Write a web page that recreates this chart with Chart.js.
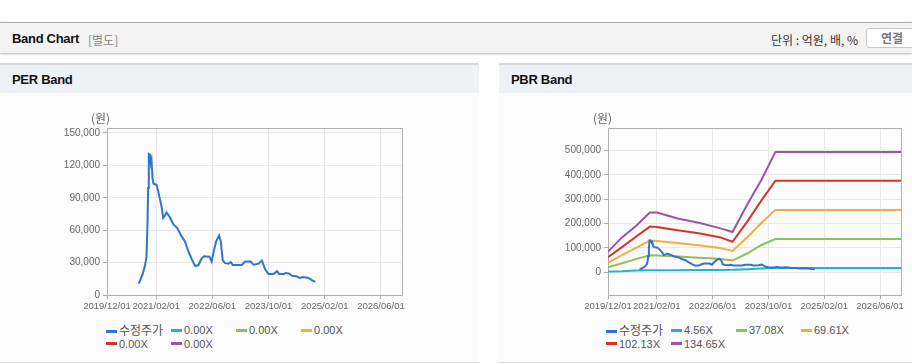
<!DOCTYPE html>
<html>
<head>
<meta charset="utf-8">
<script src="https://cdn.jsdelivr.net/npm/chart.js@4"></script>
<style>
  body { margin: 0; width: 912px; height: 364px; overflow: hidden; background: #fff; font-family: "Liberation Sans", "Noto Sans CJK KR", sans-serif; position: relative; }
  .topbar { position: absolute; left: 0; top: 22px; width: 912px; height: 30px; background: #f3f3f3; border-top: 1px solid #aaa; box-shadow: 0 1px 2px rgba(0,0,0,0.3); }
  .topbar .title { position: absolute; left: 12px; top: 8px; font-size: 13px; font-weight: bold; color: #111; letter-spacing: -0.3px; }
  .topbar .sub { position: absolute; left: 88px; top: 8px; font-size: 12px; color: #888; font-family: "Noto Sans CJK KR", sans-serif; }
  .topbar .unit { position: absolute; left: 771px; top: 8px; font-size: 12px; color: #333; font-family: "Noto Sans CJK KR", sans-serif; }
  .topbar .btn { position: absolute; left: 866px; top: 5px; width: 56px; height: 18px; border: 1px solid #c8c8c8; border-radius: 3px; background: #fff; font-size: 12px; font-weight: bold; color: #777; font-family: "Noto Sans CJK KR", sans-serif; padding-left: 14px; line-height: 18px; }
  .panel { position: absolute; top: 63px; height: 297px; background: #fcfcfc; border-top: 2px solid #d6d6d6; border-bottom: 1px solid #ddd; }
  .panel .head { height: 28px; background: #eef2f7; }
  .panel .head span { position: absolute; left: 12px; top: 7px; font-size: 13px; font-weight: bold; color: #111; letter-spacing: -0.3px; }
  canvas { position: absolute; }
  .unitlbl { position: absolute; top: 109px; font-size: 12px; color: #666; font-family: "Noto Sans CJK KR", sans-serif; }
  .legend { position: absolute; top: 323px; width: 280px; height: 30px; }
  .legend .item { position: absolute; height: 14px; line-height: 14px; font-size: 11px; color: #555; white-space: nowrap; }
  .legend .mark { display: inline-block; width: 11px; height: 3px; vertical-align: middle; margin-right: 2px; margin-top: -2px; }
  .legend .ko { font-family: "Noto Sans CJK KR", sans-serif; font-size: 12px; }
</style>
</head>
<body>
<div class="topbar">
  <span class="title">Band Chart</span>
  <span class="sub">[별도]</span>
  <span class="unit">단위 : 억원, 배, %</span>
  <span class="btn">연결</span>
</div>
<div class="panel" style="left:0;width:479px"><div class="head"><span>PER Band</span></div></div>
<div class="panel" style="left:499px;width:413px"><div class="head"><span style="left:12px">PBR Band</span></div></div>

<canvas id="per" width="479" height="221" style="left:0;top:94px"></canvas>
<canvas id="pbr" width="413" height="221" style="left:499px;top:94px"></canvas>
<div class="unitlbl" style="left:91px">(원)</div>
<div class="unitlbl" style="left:593px">(원)</div>
<div class="legend" id="perLegend" style="left:106px"></div>
<div class="legend" id="pbrLegend" style="left:606px"></div>

<script>
// x axis is months since 2019/12
const tickMonths = [0, 14, 30, 46, 62, 78];
const tickLabels = ['2019/12/01', '2021/02/01', '2022/06/01', '2023/10/01', '2025/02/01', '2026/06/01'];
const perTicks = [0, 30000, 60000, 90000, 120000, 150000];
const pbrTicks = [0, 100000, 200000, 300000, 400000, 500000];

const priceMonths = [9.06, 10.1, 10.77, 11.25, 11.53, 11.72, 11.91, 12.2, 12.49, 12.68, 12.96, 13.25, 14.1, 14.58, 15.06, 15.53, 16.0, 16.5, 16.96, 17.9, 18.87, 20.0, 21.2, 22.2, 23.15, 24.1, 25.06, 26.0, 26.96, 27.6, 29.15, 29.8, 30.5, 31.06, 31.9, 32.4, 32.96, 33.6, 34.6, 35.25, 35.8, 38.4, 39.3, 40.96, 41.7, 43.15, 44.1, 45.06, 46.0, 47.4, 48.4, 49.0, 50.3, 50.9, 51.8, 52.7, 54.1, 54.9, 55.8, 57.4, 58.4, 59.3];
const priceValues = [10500, 18800, 26500, 35700, 66700, 99000, 130500, 130000, 122000, 125000, 108000, 103000, 102000, 96000, 89000, 82000, 71500, 73500, 76500, 72000, 65500, 62000, 54500, 49500, 40500, 33500, 27000, 27500, 34000, 35800, 35500, 31000, 42000, 49500, 55000, 49500, 32000, 29500, 29000, 30500, 27800, 27800, 31000, 31000, 28000, 29000, 32000, 23500, 19500, 19500, 22000, 19500, 19500, 20300, 20000, 17800, 17200, 15700, 16600, 15700, 13500, 12300];

const bandMonths = [0, 4, 8, 12, 14, 20, 26, 32, 35.7, 40, 44, 48, 84];
const band456 = [3500, 4500, 7500, 8500, 8500, 8500, 9000, 9500, 10000, 12500, 15500, 17500, 17500];
const band3708 = [20000, 37000, 54000, 70000, 69000, 65000, 60000, 55000, 48000, 78000, 112000, 136000, 136000];
const band6961 = [39500, 70000, 100000, 130000, 128000, 120000, 111000, 100000, 87600, 145000, 203000, 256000, 256000];
const band10213 = [61700, 103000, 146000, 187500, 186000, 172000, 160000, 144000, 125000, 210000, 295000, 376000, 376000];
const band13465 = [84700, 143000, 190000, 245000, 245000, 221000, 203000, 181000, 165000, 280000, 380000, 494000, 494000];

const perLabels = ['수정주가', '0.00X', '0.00X', '0.00X', '0.00X', '0.00X'];
const pbrLabels = ['수정주가', '4.56X', '37.08X', '69.61X', '102.13X', '134.65X'];
const colors = ['#3274cc', '#20b5c8', '#8fbf58', '#f2ae3f', '#d6342a', '#9a56a2'];

function pts(xs, ys) {
  return xs.map((x, i) => ({ x: x, y: ys[i] }));
}

const priceData = pts(priceMonths, priceValues);

const frame = {
  id: 'frame',
  beforeDatasetsDraw(chart) {
    const a = chart.chartArea;
    const ctx = chart.ctx;
    ctx.save();
    ctx.strokeStyle = '#b0b0b0';
    ctx.lineWidth = 1;
    ctx.strokeRect(Math.round(a.left) + 0.5, Math.round(a.top) + 0.5, Math.round(a.right - a.left), Math.round(a.bottom - a.top));
    ctx.restore();
  }
};

function makeChart(id, labels, seriesList, yMin, yMax, yTicks, padLeft, padRight) {
  const datasets = labels.map((lab, i) => ({
    label: lab,
    data: seriesList[i],
    borderColor: colors[i],
    backgroundColor: colors[i],
    borderWidth: 2,
    pointRadius: 0,
    tension: 0,
    order: i == 0 ? 0 : 1
  }));
  return new Chart(document.getElementById(id), {
    type: 'line',
    data: { datasets: datasets },
    options: {
      responsive: false,
      animation: false,
      layout: { padding: { left: padLeft, right: padRight, top: 34, bottom: 0 } },
      plugins: { legend: { display: false }, tooltip: { enabled: false } },
      scales: {
        x: {
          type: 'linear', min: 0, max: 84,
          afterFit: s => { s.height = 20; },
          afterBuildTicks: s => { s.ticks = tickMonths.map(v => ({ value: v })); },
          grid: { color: '#e8e8e8', tickColor: '#aaa', tickLength: 4 },
          border: { color: '#aaa' },
          ticks: {
            autoSkip: false, maxRotation: 0, minRotation: 0, padding: 2,
            color: '#666', font: { family: 'Liberation Sans', size: 9.5 },
            callback: v => tickLabels[tickMonths.indexOf(v)]
          }
        },
        y: {
          min: yMin, max: yMax,
          afterFit: s => { s.width = 50; },
          afterBuildTicks: s => { s.ticks = yTicks.map(v => ({ value: v })); },
          grid: { color: '#e8e8e8', tickColor: '#aaa', tickLength: 4 },
          border: { color: '#aaa' },
          ticks: {
            padding: 3, color: '#666', font: { family: 'Liberation Sans', size: 10 },
            callback: v => v.toLocaleString('en-US')
          }
        }
      }
    },
    plugins: [frame]
  });
}

function buildLegend(chart, elId) {
  const box = document.getElementById(elId);
  chart.data.datasets.forEach((ds, i) => {
    const item = document.createElement('div');
    item.className = 'item';
    item.style.left = (i % 4) * 65 + 'px';
    item.style.top = Math.floor(i / 4) * 13.5 + 'px';
    const mark = document.createElement('span');
    mark.className = 'mark';
    mark.style.background = ds.borderColor;
    const txt = document.createElement('span');
    txt.textContent = ds.label;
    if (i == 0) txt.className = 'ko';
    item.appendChild(mark);
    item.appendChild(txt);
    box.appendChild(item);
  });
}

const perChart = makeChart('per', perLabels, [priceData, [], [], [], [], []], 0, 154600, perTicks, 57, 77);
const pbrChart = makeChart('pbr', pbrLabels, [
  priceData,
  pts(bandMonths, band456),
  pts(bandMonths, band3708),
  pts(bandMonths, band6961),
  pts(bandMonths, band10213),
  pts(bandMonths, band13465)
], -93300, 592000, pbrTicks, 59, 11);

buildLegend(perChart, 'perLegend');
buildLegend(pbrChart, 'pbrLegend');
</script>
</body>
</html>
